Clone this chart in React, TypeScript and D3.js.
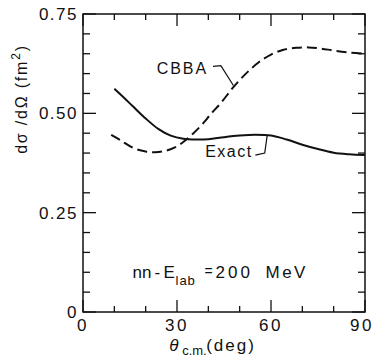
import * as d3 from "d3";
import { useEffect, useRef } from "react";

// angle (deg) and cross section (fm^2)
const exactAngles = [10, 13, 16, 20, 24, 28, 32, 36, 40, 45, 50, 55, 60, 65, 70, 75, 80, 85, 90];
const exactValues = [0.562, 0.54, 0.517, 0.487, 0.461, 0.444, 0.436, 0.434, 0.435, 0.44, 0.444, 0.446, 0.444, 0.434, 0.421, 0.41, 0.401, 0.397, 0.395];

const cbbaAngles = [9, 12, 16, 20, 23, 26, 29, 32, 35, 38, 41, 44, 48, 52, 56, 60, 64, 68, 72, 76, 80, 85, 90];
const cbbaValues = [0.446, 0.432, 0.413, 0.404, 0.402, 0.405, 0.413, 0.428, 0.448, 0.472, 0.5, 0.526, 0.566, 0.6, 0.628, 0.648, 0.66, 0.665, 0.666, 0.663, 0.658, 0.653, 0.65];

const xMajor = [0, 30, 60, 90];
const xMinor = [10, 20, 40, 50, 70, 80];
const yMajor = [0, 0.25, 0.5, 0.75];
const yMinor = [0.05, 0.1, 0.15, 0.2, 0.3, 0.35, 0.4, 0.45, 0.55, 0.6, 0.65, 0.7];
const yTickLabels = ["0", "0.25", "0.50", "0.75"];

const FONT = "'Liberation Sans', Arial, sans-serif";

function App() {
  const ref = useRef<SVGSVGElement>(null);

  useEffect(() => {
    const width = 378;
    const height = 360;
    const margin = { top: 14, right: 13, bottom: 48, left: 83 };
    const w = width - margin.left - margin.right;
    const h = height - margin.top - margin.bottom;

    const root = d3.select(ref.current);
    root.selectAll("*").remove();
    const svg = root.append("g").attr("transform", `translate(${margin.left},${margin.top})`);

    const x = d3.scaleLinear().domain([0, 90]).range([0, w]);
    const y = d3.scaleLinear().domain([0, 0.75]).range([h, 0]);

    // frame
    svg
      .append("rect")
      .attr("width", w)
      .attr("height", h)
      .attr("fill", "none")
      .attr("stroke", "#111")
      .attr("stroke-width", 1.5);

    // inward ticks on all four sides
    const tick = (len: number, ticks: number[], side: string) => {
      ticks.forEach((t) => {
        const line = svg.append("line").attr("stroke", "#111").attr("stroke-width", 1.3);
        if (side === "bottom") line.attr("x1", x(t)).attr("x2", x(t)).attr("y1", h).attr("y2", h - len);
        if (side === "top") line.attr("x1", x(t)).attr("x2", x(t)).attr("y1", 0).attr("y2", len);
        if (side === "left") line.attr("x1", 0).attr("x2", len).attr("y1", y(t)).attr("y2", y(t));
        if (side === "right") line.attr("x1", w).attr("x2", w - len).attr("y1", y(t)).attr("y2", y(t));
      });
    };
    tick(12, xMajor, "bottom");
    tick(6, xMinor, "bottom");
    tick(12, xMajor, "top");
    tick(6, xMinor, "top");
    tick(13, yMajor, "left");
    tick(7, yMinor, "left");
    tick(13, yMajor, "right");
    tick(7, yMinor, "right");

    // tick labels
    svg
      .selectAll(".xlab")
      .data(xMajor)
      .enter()
      .append("text")
      .attr("x", (d) => x(d) - (d === 90 ? 3 : 0))
      .attr("y", h + 19)
      .attr("text-anchor", "middle")
      .attr("font-family", FONT)
      .attr("font-size", 17)
      .attr("letter-spacing", 2.5)
      .attr("fill", "#111")
      .text((d) => String(d));

    svg
      .selectAll(".ylab")
      .data(yMajor)
      .enter()
      .append("text")
      .attr("x", -5)
      .attr("y", (d) => y(d) + 6)
      .attr("text-anchor", "end")
      .attr("font-family", FONT)
      .attr("font-size", 17)
      .attr("letter-spacing", 1.5)
      .attr("fill", "#111")
      .text((d, i) => yTickLabels[i]);

    const line = d3
      .line<[number, number]>()
      .x((d) => x(d[0]))
      .y((d) => y(d[1]))
      .curve(d3.curveCatmullRom.alpha(0.5));

    const exact = exactAngles.map((a, i) => [a, exactValues[i]] as [number, number]);
    const cbba = cbbaAngles.map((a, i) => [a, cbbaValues[i]] as [number, number]);

    svg
      .append("path")
      .datum(exact)
      .attr("fill", "none")
      .attr("stroke", "#111")
      .attr("stroke-width", 2)
      .attr("d", line);

    svg
      .append("path")
      .datum(cbba)
      .attr("fill", "none")
      .attr("stroke", "#111")
      .attr("stroke-width", 2)
      .attr("stroke-dasharray", "10,5")
      .attr("d", line);

    // curve labels with leaders
    svg
      .append("text")
      .attr("x", x(23.5))
      .attr("y", y(0.6))
      .attr("font-family", FONT)
      .attr("font-size", 16)
      .attr("letter-spacing", 2)
      .attr("fill", "#111")
      .text("CBBA");
    svg
      .append("path")
      .attr("d", `M${x(41.5)},${y(0.618)} L${x(44)},${y(0.62)} L${x(48)},${y(0.57)}`)
      .attr("fill", "none")
      .attr("stroke", "#111")
      .attr("stroke-width", 1.2);

    svg
      .append("text")
      .attr("x", x(39))
      .attr("y", y(0.39))
      .attr("font-family", FONT)
      .attr("font-size", 16)
      .attr("letter-spacing", 1.5)
      .attr("fill", "#111")
      .text("Exact");
    svg
      .append("path")
      .attr("d", `M${x(55)},${y(0.395)} L${x(58)},${y(0.4)} L${x(58.8)},${y(0.445)}`)
      .attr("fill", "none")
      .attr("stroke", "#111")
      .attr("stroke-width", 1.2);

    // energy annotation, chunks placed from a left anchor
    const ax = x(15.8);
    const ay = y(0.085);
    const ann = svg
      .append("text")
      .attr("y", ay)
      .attr("font-family", FONT)
      .attr("font-size", 17)
      .attr("fill", "#111");
    ann.append("tspan").attr("x", ax).text("nn");
    ann.append("tspan").attr("x", ax + 22).text("-");
    ann.append("tspan").attr("x", ax + 31).text("E");
    ann.append("tspan").attr("x", ax + 43).attr("y", ay + 7).attr("font-size", 13).attr("letter-spacing", 1).text("lab");
    ann.append("tspan").attr("x", ax + 72).attr("y", ay - 2).attr("font-size", 14).text("=");
    ann.append("tspan").attr("x", ax + 83).attr("y", ay).attr("letter-spacing", 3).text("200");
    ann.append("tspan").attr("x", ax + 133).attr("letter-spacing", 2.5).text("MeV");

    // x-axis title
    const tx = x(27.5);
    const xt = svg
      .append("text")
      .attr("y", h + 39)
      .attr("font-family", FONT)
      .attr("font-size", 17)
      .attr("fill", "#111");
    xt.append("tspan").attr("x", tx).attr("font-style", "italic").text("θ");
    xt.append("tspan").attr("x", tx + 13).attr("dy", 4).attr("font-size", 13).text("c.m.");
    xt.append("tspan").attr("x", tx + 37).attr("dy", -4).attr("letter-spacing", 2).text("(deg)");

    // y-axis title
    const yt = svg
      .append("text")
      .attr("transform", `translate(${27 - margin.left},${99 - margin.top}) rotate(-90)`)
      .attr("text-anchor", "middle")
      .attr("font-family", FONT)
      .attr("font-size", 16)
      .attr("letter-spacing", 1.8)
      .attr("fill", "#111");
    yt.append("tspan").text("dσ /dΩ  (fm");
    yt.append("tspan").attr("dy", -7).attr("font-size", 12).text("2");
    yt.append("tspan").attr("dy", 7).text(")");
  }, []);

  return (
    <svg
      ref={ref}
      width={378}
      height={360}
      style={{ position: "absolute", left: 0, top: 0, background: "#fff" }}
    />
  );
}

export default App;
